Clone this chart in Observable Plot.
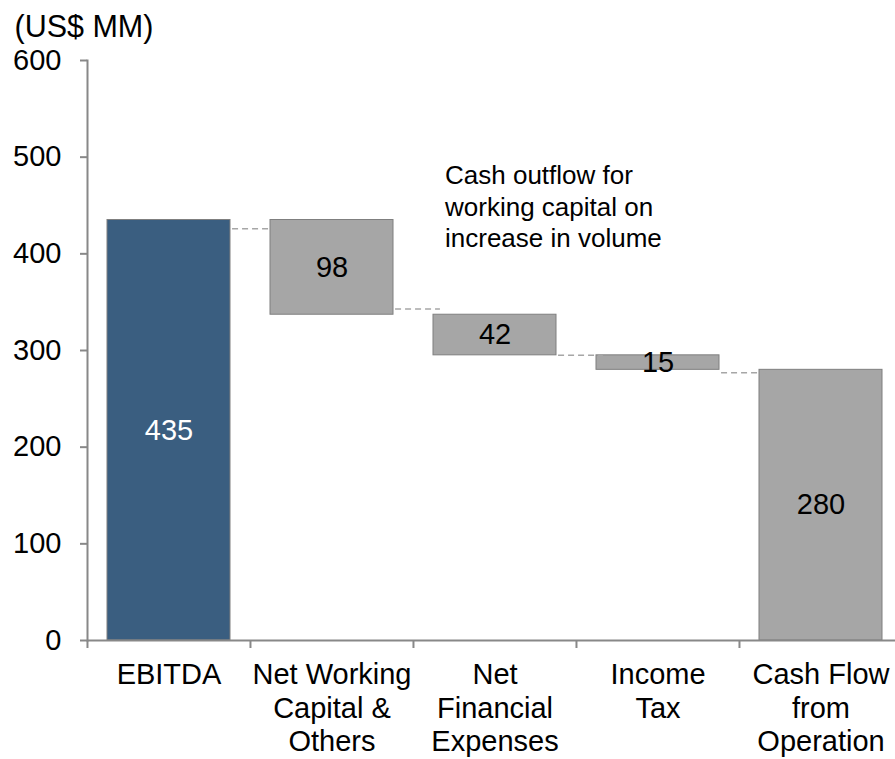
<!DOCTYPE html>
<html>
<head>
<meta charset="utf-8">
<script src="https://cdn.jsdelivr.net/npm/d3@7"></script>
<script src="https://cdn.jsdelivr.net/npm/@observablehq/plot@0.6"></script>
<style>
  html, body { margin: 0; padding: 0; background: #fff; }
  #chart svg { display: block; font-family: "Liberation Sans", Arial, sans-serif; }
</style>
</head>
<body>
<div id="chart"></div>
<script>
// ---- data ----
const categories = ["EBITDA", "Net Working\nCapital &\nOthers", "Net\nFinancial\nExpenses", "Income\nTax", "Cash Flow\nfrom\nOperation"];
const changes = [435, -98, -42, -15, 280];
const kinds = ["total", "delta", "delta", "delta", "total"];
const connectorLevels = [426, 343, 295, 277];
const yTicks = [0, 100, 200, 300, 400, 500, 600];
const unitLabel = "(US$ MM)";
const noteLines = ["Cash outflow for", "working capital on", "increase in volume"];
const noteCategory = categories[2];
const noteValue = 450;

// ---- derived waterfall table ----
let running = 0;
const bars = categories.map((c, i) => {
  let lo, hi;
  if (kinds[i] === "total") { lo = 0; hi = changes[i]; running = changes[i]; }
  else { lo = running + changes[i]; hi = running; running += changes[i]; }
  return {category: c, lo, hi, mid: (lo + hi) / 2, label: String(Math.abs(changes[i])), kind: kinds[i], first: i === 0};
});
const connectors = connectorLevels.map((v, i) => ({from: categories[i], to: categories[i + 1], value: v}));

const FONT = 29;
const bw = 815 * 0.755 / 5; // bar width in px (used only for connector insets)

const chart = Plot.plot({
  width: 895,
  height: 759,
  marginTop: 60,
  marginBottom: 119,
  marginLeft: 87,
  marginRight: 0,
  style: {fontFamily: '"Liberation Sans", Arial, sans-serif', fontSize: FONT + "px", background: "white"},
  x: {type: "band", domain: categories, range: [87, 902], paddingInner: 0.245, paddingOuter: 0.1225, label: null},
  y: {domain: [0, 600], label: null},
  marks: [
    Plot.barY(bars, {
      x: "category", y1: "lo", y2: "hi",
      fill: d => d.first ? "#3A5E80" : "#A6A6A6",
      stroke: "#7F7F7F", strokeWidth: 1
    }),
    Plot.ruleY(connectors, {
      x1: "from", x2: "to", y: "value",
      insetLeft: bw + 2, insetRight: bw - 7,
      stroke: "#A6A6A6", strokeWidth: 1.5, strokeDasharray: "6,4"
    }),
    Plot.text(bars, {
      x: "category", y: "mid", text: "label",
      fill: d => d.first ? "white" : "black",
      fontSize: FONT
    }),
    Plot.text([noteLines.join("\n")], {
      x: () => noteCategory, y: () => noteValue, text: d => d,
      textAnchor: "start", lineAnchor: "middle", dx: -50,
      fontSize: 26, lineHeight: 1.22, fill: "black"
    }),
    Plot.text([unitLabel], {
      frameAnchor: "top-left", text: d => d,
      textAnchor: "start", lineAnchor: "top", dx: -73, dy: -45,
      fontSize: 30.5, fill: "black"
    }),
    Plot.axisY({
      ticks: yTicks, tickSize: 7, tickPadding: 19, tickFormat: d => String(d),
      stroke: "#888", strokeWidth: 2, fill: "black", fontSize: FONT, label: null
    }),
    Plot.axisX({
      tickSize: 0, tickPadding: 20, fill: "black", fontSize: FONT,
      lineHeight: 1.15, label: null
    }),
    Plot.axisX({
      tickSize: 8, tickFormat: () => "", dx: -(bw / 2 + 20),
      stroke: "#888", strokeWidth: 2, label: null
    }),
    Plot.frame({anchor: "left", stroke: "#888", strokeWidth: 2}),
    Plot.ruleY([0], {stroke: "#888", strokeWidth: 2})
  ]
});
document.getElementById("chart").appendChild(chart);
</script>
</body>
</html>
